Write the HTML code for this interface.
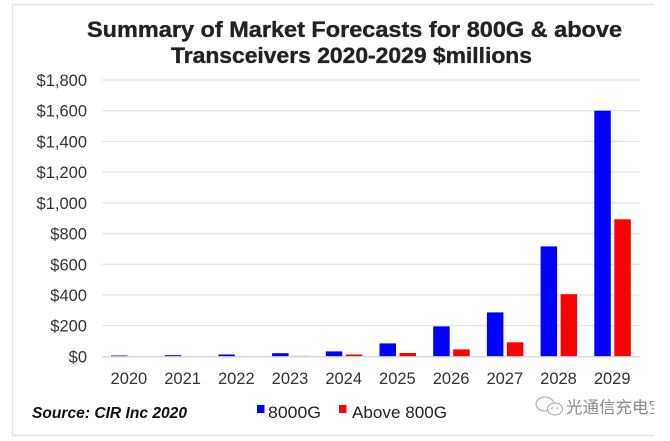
<!DOCTYPE html>
<html><head><meta charset="utf-8"><style>
html,body{margin:0;padding:0;background:#fff;}
svg{display:block;}
</style></head><body>
<svg width="670" height="441" viewBox="0 0 670 441" xmlns="http://www.w3.org/2000/svg">
<rect x="0" y="0" width="670" height="441" fill="#fff"/>
<!-- chart border -->
<line x1="12" y1="4.5" x2="654" y2="4.5" stroke="#dedee8" stroke-width="1.2"/>
<line x1="12.5" y1="4" x2="12.5" y2="436" stroke="#e4e4ec" stroke-width="1"/>
<line x1="12" y1="435.5" x2="654" y2="435.5" stroke="#dedee8" stroke-width="1.2"/>
<!-- title -->
<g font-family="Liberation Sans, Arial, sans-serif" font-weight="bold" fill="#222" stroke="#222" stroke-width="0.35" font-size="22" text-anchor="start">
<text x="87" y="37" textLength="535" lengthAdjust="spacingAndGlyphs">Summary of Market Forecasts for 800G &amp; above</text>
<text x="171" y="63" textLength="361" lengthAdjust="spacingAndGlyphs">Transceivers 2020-2029 $millions</text>
</g>
<!-- gridlines -->
<g stroke="#e2e2ee" stroke-width="1.2">
<line x1="102" y1="80" x2="640" y2="80"/>
<line x1="102" y1="110.7" x2="640" y2="110.7"/>
<line x1="102" y1="141.4" x2="640" y2="141.4"/>
<line x1="102" y1="172.1" x2="640" y2="172.1"/>
<line x1="102" y1="202.8" x2="640" y2="202.8"/>
<line x1="102" y1="233.6" x2="640" y2="233.6"/>
<line x1="102" y1="264.3" x2="640" y2="264.3"/>
<line x1="102" y1="295" x2="640" y2="295"/>
<line x1="102" y1="325.7" x2="640" y2="325.7"/>
</g>
<!-- y labels -->
<g font-family="Liberation Sans, Arial, sans-serif" font-size="16.5" fill="#333" text-anchor="end">
<text x="87" y="86">$1,800</text>
<text x="87" y="116.7">$1,600</text>
<text x="87" y="147.4">$1,400</text>
<text x="87" y="178.1">$1,200</text>
<text x="87" y="208.8">$1,000</text>
<text x="87" y="239.6">$800</text>
<text x="87" y="270.3">$600</text>
<text x="87" y="301">$400</text>
<text x="87" y="331.7">$200</text>
<text x="87" y="362.4">$0</text>
</g>
<!-- bars -->
<g fill="#0000ff">
<rect x="111" y="355.5" width="16.5" height="1"/>
<rect x="164.7" y="355.2" width="16.5" height="1.3"/>
<rect x="218.4" y="354.5" width="16.5" height="2"/>
<rect x="272.1" y="353.2" width="16.5" height="3.3"/>
<rect x="325.8" y="351.4" width="16.5" height="5.1"/>
<rect x="379.5" y="343.4" width="16.5" height="13.1"/>
<rect x="433.2" y="326.4" width="16.5" height="30.1"/>
<rect x="486.9" y="312.4" width="16.5" height="44.1"/>
<rect x="540.6" y="246.4" width="16.5" height="110.1"/>
<rect x="594.3" y="110.7" width="16.5" height="245.8"/>
</g>
<g fill="#ff0000">
<rect x="292.1" y="355.7" width="16.5" height="0.8" fill="#f5a0a0"/>
<rect x="345.8" y="354.5" width="16.5" height="2"/>
<rect x="399.5" y="353" width="16.5" height="3.5"/>
<rect x="453.2" y="349.4" width="16.5" height="7.1"/>
<rect x="506.9" y="342.3" width="16.5" height="14.2"/>
<rect x="560.6" y="294.2" width="16.5" height="62.3"/>
<rect x="614.3" y="219.3" width="16.5" height="137.2"/>
</g>
<!-- zero line -->
<line x1="102" y1="356.8" x2="640" y2="356.8" stroke="#d8d8e0" stroke-width="1.4"/>
<!-- x labels -->
<g font-family="Liberation Sans, Arial, sans-serif" font-size="16.5" fill="#333" text-anchor="middle">
<text x="128.9" y="384">2020</text>
<text x="182.6" y="384">2021</text>
<text x="236.3" y="384">2022</text>
<text x="290" y="384">2023</text>
<text x="343.7" y="384">2024</text>
<text x="397.4" y="384">2025</text>
<text x="451.1" y="384">2026</text>
<text x="504.8" y="384">2027</text>
<text x="558.5" y="384">2028</text>
<text x="612.2" y="384">2029</text>
</g>
<!-- source -->
<text x="32" y="418" font-family="Liberation Sans, Arial, sans-serif" font-size="16" font-weight="bold" font-style="italic" fill="#111" textLength="155" lengthAdjust="spacingAndGlyphs">Source: CIR Inc 2020</text>
<!-- legend -->
<rect x="257" y="405" width="7.5" height="8" fill="#0000ff"/>
<text x="268" y="418" font-family="Liberation Sans, Arial, sans-serif" font-size="17" fill="#222" textLength="53" lengthAdjust="spacingAndGlyphs">8000G</text>
<rect x="339" y="405" width="7.5" height="8" fill="#ff0000"/>
<text x="352" y="418" font-family="Liberation Sans, Arial, sans-serif" font-size="17" fill="#222" textLength="95" lengthAdjust="spacingAndGlyphs">Above 800G</text>
<!-- watermark -->
<g fill="none" stroke="#aaa" stroke-width="1.1">
<ellipse cx="545" cy="404" rx="9" ry="7"/>
<ellipse cx="555" cy="409" rx="7.5" ry="6" fill="#fff"/>
</g>
<circle cx="552" cy="408" r="0.9" fill="#aaa"/>
<circle cx="557.5" cy="408" r="0.9" fill="#aaa"/>
<svg x="565" y="390" width="89" height="30" overflow="hidden">
<text x="1" y="23" font-family="Liberation Sans, 'Noto Sans CJK SC', 'WenQuanYi Zen Hei', sans-serif" font-size="16.5" fill="#8a8a8a">光通信充电宝</text>
</svg>
</svg>
</body></html>
